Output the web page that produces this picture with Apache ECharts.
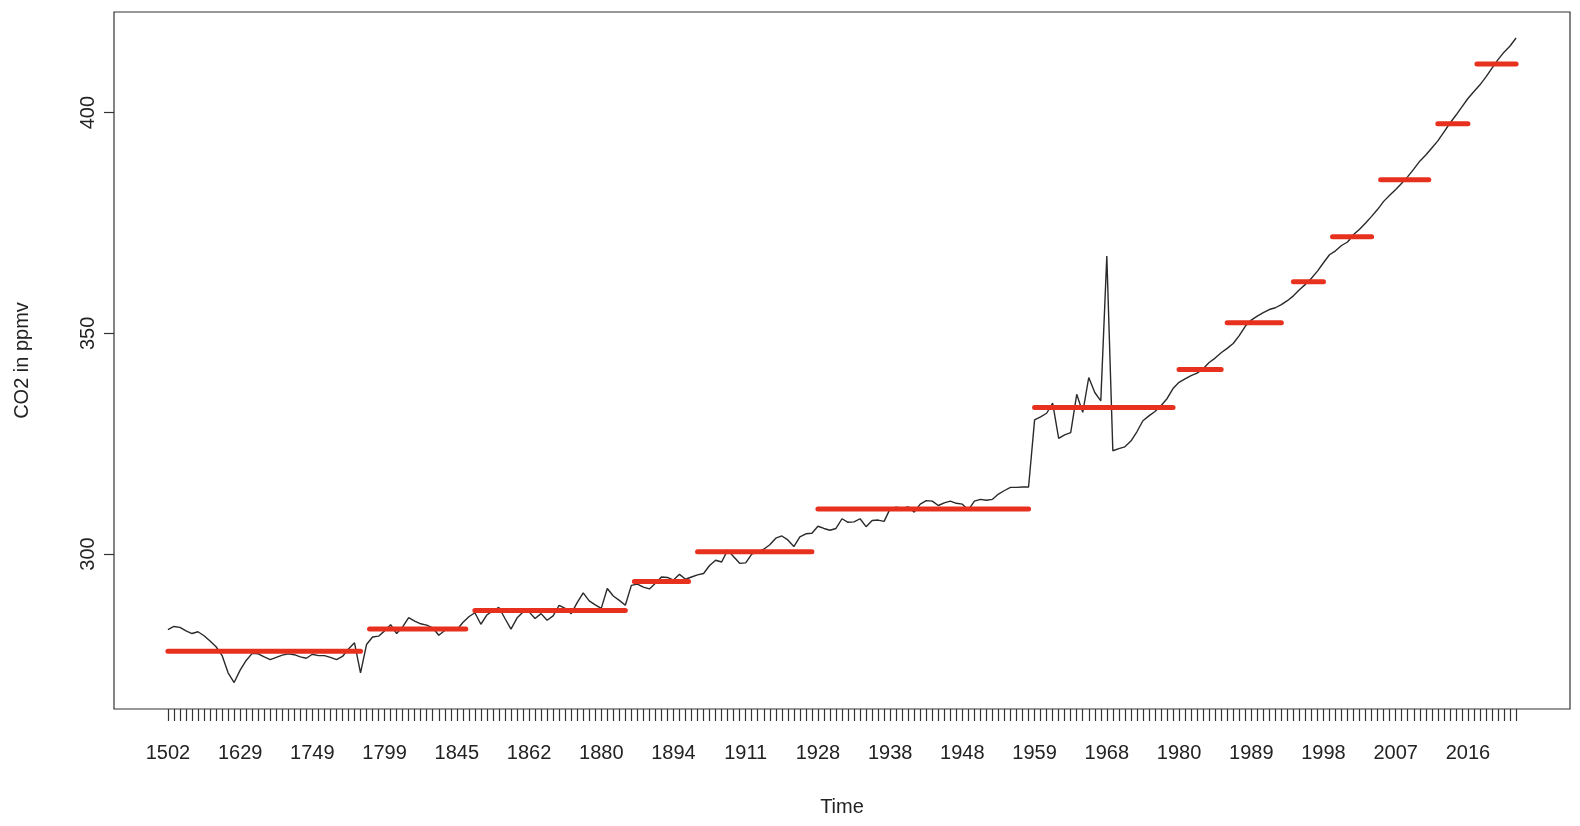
<!DOCTYPE html>
<html>
<head>
<meta charset="utf-8">
<title>CO2 in ppmv</title>
<script src="https://cdn.jsdelivr.net/npm/echarts@6/dist/echarts.min.js"></script>
<style>
  html, body { margin: 0; padding: 0; background: #fff; }
  #chart { width: 1580px; height: 826px; }
</style>
</head>
<body>
<div id="chart"></div>
<script>
// labels under the x axis, one every 12 observations
var tickLabels = ['1502', '1629', '1749', '1799', '1845', '1862', '1880', '1894', '1911', '1928',
  '1938', '1948', '1959', '1968', '1980', '1989', '1998', '2007', '2016'];
var labelStep = 12;

var co2 = [
  282.9, 283.6, 283.4, 282.6, 282.0, 282.4, 281.5, 280.3, 279.0, 277.0,
  273.1, 270.9, 273.7, 275.9, 277.5, 277.4, 276.7, 276.1, 276.6, 277.1,
  277.4, 277.2, 276.7, 276.4, 277.3, 277.0, 277.0, 276.6, 276.1, 276.8,
  278.5, 279.9, 273.1, 279.5, 281.2, 281.4, 282.6, 284.0, 282.0, 283.5,
  285.6, 284.8, 284.2, 283.9, 283.3, 281.6, 282.7, 283.2, 282.8, 284.5,
  285.8, 286.7, 284.1, 286.2, 287.2, 287.9, 285.4, 283.0, 285.5, 286.9,
  286.9, 285.4, 286.5, 285.0, 286.0, 288.4, 287.7, 286.5, 289.0, 291.2,
  289.4, 288.5, 287.7, 292.2, 290.5, 289.5, 288.4, 292.9, 293.2, 292.5,
  292.1, 293.4, 294.8, 294.7, 294.1, 295.4, 294.3, 294.8, 295.3, 295.6,
  297.4, 298.6, 298.2, 300.9, 299.4, 297.9, 298.0, 300.0, 300.5, 301.1,
  302.1, 303.6, 304.1, 303.2, 301.7, 303.9, 304.6, 304.7, 306.3, 305.8,
  305.4, 305.8, 308.0, 307.2, 307.3, 308.0, 306.2, 307.6, 307.7, 307.4,
  310.3, 310.6, 310.4, 310.7, 309.5, 311.3, 312.1, 312.0, 311.0, 311.6,
  312.0, 311.5, 311.3, 310.0, 312.0, 312.4, 312.2, 312.4, 313.6, 314.4,
  315.1, 315.1, 315.2, 315.2, 330.4, 331.1, 331.9, 334.2, 326.2, 327.0,
  327.5, 336.2, 332.1, 340.0, 336.6, 334.7, 367.5, 323.4, 323.9, 324.3,
  325.6, 327.7, 330.2, 331.3, 332.3, 333.6, 335.2, 337.5, 338.9, 339.7,
  340.4, 341.0, 342.0, 343.4, 344.4, 345.6, 346.6, 347.7, 349.5, 351.6,
  353.0, 353.9, 354.7, 355.4, 355.8, 356.5, 357.4, 358.5, 359.9, 361.1,
  362.5, 364.1, 366.0, 367.8, 368.7, 369.9, 370.7, 372.4, 373.6, 375.0,
  376.5, 378.1, 379.9, 381.3, 382.6, 384.0, 385.5, 387.2, 389.0, 390.4,
  392.0, 393.6, 395.6, 397.6, 399.4, 401.3, 403.2, 404.8, 406.3, 408.1,
  410.1, 412.0, 413.7, 415.1, 416.9
];

// red level segments: first / last observation index and level
var segStart = [0, 33.5, 51, 77.5, 88, 108, 144, 168, 176, 187, 193.5, 201.5, 211, 217.5];
var segEnd = [32, 49.5, 76, 86.5, 107, 143, 167, 175, 185, 192, 200, 209.5, 216, 224];
var segLevel = [278.0, 283.0, 287.2, 293.8, 300.5, 310.2, 333.2, 341.8, 352.4, 361.7,
  371.9, 384.8, 397.5, 411.0];

var yTicks = [300, 350, 400];

var chart = echarts.init(document.getElementById('chart'));

var n = co2.length;
var pad = 0.04 * (n - 1); // R style 4% axis extension

var tickIdx = [];
for (var i = 0; i < n; i++) tickIdx.push(i);
var labelIdx = [];
for (var k = 0; k < tickLabels.length; k++) labelIdx.push(k * labelStep);

var ink = '#222';
var font = 'Liberation Sans, Arial, sans-serif';

var series = [{
  type: 'line',
  data: co2.map(function (v, i) { return [i, v]; }),
  symbol: 'none',
  silent: true,
  lineStyle: { color: '#2a2a2a', width: 1.4 },
  z: 2
}];

for (var s = 0; s < segLevel.length; s++) {
  series.push({
    type: 'line',
    data: [[segStart[s], segLevel[s]], [segEnd[s], segLevel[s]]],
    symbol: 'none',
    silent: true,
    lineStyle: { color: '#e8301f', width: 5, cap: 'round' },
    z: 3
  });
}

var option = {
  animation: false,
  backgroundColor: '#fff',
  grid: {
    left: 114, right: 10, top: 12, bottom: 117,
    show: true, borderColor: '#333', borderWidth: 1.2
  },
  xAxis: {
    type: 'value',
    min: -pad,
    max: n - 1 + pad,
    name: 'Time',
    nameLocation: 'middle',
    nameGap: 88,
    nameTextStyle: { color: ink, fontSize: 20, fontFamily: font },
    axisLine: { show: false, onZero: false },
    splitLine: { show: false },
    axisTick: {
      show: true, length: 12, customValues: tickIdx,
      lineStyle: { color: '#333', width: 1.2 }
    },
    axisLabel: {
      customValues: labelIdx,
      formatter: function (v) { return tickLabels[Math.round(v / labelStep)]; },
      margin: 34, fontSize: 20, color: ink, fontFamily: font
    }
  },
  yAxis: {
    type: 'value',
    min: 264.9,
    max: 422.8,
    name: 'CO2 in ppmv',
    nameLocation: 'middle',
    nameGap: 82,
    nameTextStyle: { color: ink, fontSize: 20, fontFamily: font },
    axisLine: { show: false, onZero: false },
    splitLine: { show: false },
    axisTick: {
      show: true, length: 10, customValues: yTicks,
      lineStyle: { color: '#333', width: 1.2 }
    },
    axisLabel: {
      customValues: yTicks,
      rotate: 90,
      margin: 16, fontSize: 20, color: ink, fontFamily: font
    }
  },
  series: series
};

chart.setOption(option);
</script>
</body>
</html>
